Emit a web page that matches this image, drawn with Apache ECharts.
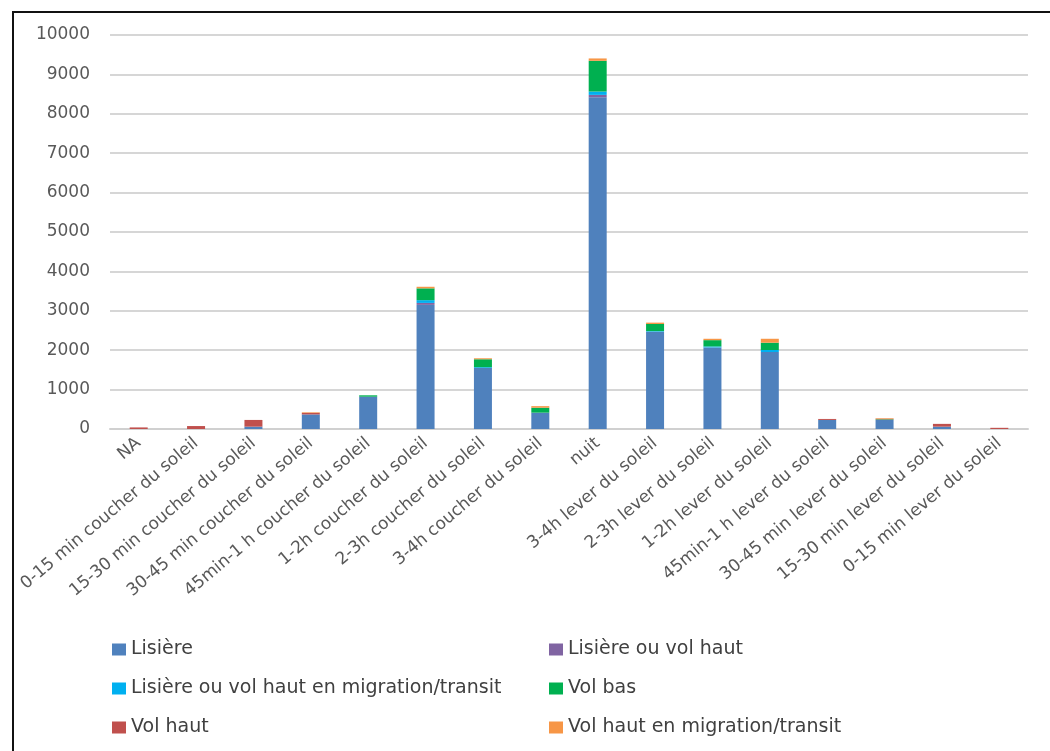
<!DOCTYPE html>
<html>
<head>
<meta charset="utf-8">
<script src="https://cdn.jsdelivr.net/npm/echarts@6/dist/echarts.min.js"></script>
<style>
  html, body { margin: 0; padding: 0; background: #fff; }
  #chart { width: 1050px; height: 751px; }
</style>
</head>
<body>
<div id="chart"></div>
<script>
// categories (x axis)
const periodes = ['NA', '0-15 min coucher du soleil', '15-30 min coucher du soleil', '30-45 min coucher du soleil',
  '45min-1 h coucher du soleil', '1-2h coucher du soleil', '2-3h coucher du soleil', '3-4h coucher du soleil',
  'nuit', '3-4h lever du soleil', '2-3h lever du soleil', '1-2h lever du soleil', '45min-1 h lever du soleil',
  '30-45 min lever du soleil', '15-30 min lever du soleil', '0-15 min lever du soleil'];

// values per series
const lisiere        = [0, 0, 60, 370, 820, 3150, 1550, 415, 8420, 2470, 2070, 1955, 230, 230, 60, 0];
const lisiereVolHaut = [0, 0, 0, 0, 0, 50, 0, 0, 60, 0, 0, 0, 0, 0, 0, 0];
const lisiereMigr    = [0, 0, 0, 0, 0, 70, 20, 0, 85, 15, 25, 50, 0, 0, 0, 0];
const volBas         = [0, 0, 0, 0, 35, 300, 200, 125, 780, 180, 160, 185, 0, 15, 0, 0];
const volHaut        = [40, 75, 170, 40, 0, 0, 0, 0, 0, 0, 0, 0, 25, 15, 70, 30];
const volHautMigr    = [0, 0, 0, 15, 0, 40, 25, 40, 60, 35, 35, 100, 0, 15, 0, 0];

const yTicks = [0, 10000, 1000]; // min, max, interval

const chart = echarts.init(document.getElementById('chart'));
const font = 'DejaVu Sans';

function serie(name, data, color) {
  return {
    name: name,
    type: 'bar',
    stack: 'total',
    barWidth: 18,
    data: data,
    itemStyle: { color: color }
  };
}

const legendText = { color: '#404040', fontSize: 19, fontFamily: font, lineHeight: 21 };

const option = {
  backgroundColor: '#fff',
  animation: false,
  textStyle: { fontFamily: font },
  graphic: [{
    type: 'rect',
    shape: { x: 13, y: 12, width: 1100, height: 800 },
    style: { fill: 'none', stroke: '#111', lineWidth: 2 },
    silent: true
  }],
  grid: { left: 110, right: 22, top: 35, bottom: 322, containLabel: false },
  xAxis: {
    type: 'category',
    data: periodes,
    axisLine: { lineStyle: { color: '#d0d0d0', width: 2 } },
    axisTick: { show: false },
    axisLabel: {
      interval: 0,
      rotate: 40,
      margin: 12,
      color: '#595959',
      fontSize: 17,
      fontFamily: font
    }
  },
  yAxis: {
    type: 'value',
    min: yTicks[0],
    max: yTicks[1],
    interval: yTicks[2],
    axisLine: { show: false },
    axisTick: { show: false },
    splitLine: { lineStyle: { color: '#d6d6d6', width: 2 } },
    axisLabel: {
      color: '#595959', fontSize: 17, margin: 20, fontFamily: font,
      formatter: function (v) { return String(v); }
    }
  },
  legend: [{
    orient: 'vertical',
    left: 107,
    top: 634,
    itemWidth: 14,
    itemHeight: 12,
    itemGap: 18,
    icon: 'rect',
    textStyle: legendText,
    data: ['Lisière', 'Lisière ou vol haut en migration/transit', 'Vol haut']
  }, {
    orient: 'vertical',
    left: 544,
    top: 634,
    itemWidth: 14,
    itemHeight: 12,
    itemGap: 18,
    icon: 'rect',
    textStyle: legendText,
    data: ['Lisière ou vol haut', 'Vol bas', 'Vol haut en migration/transit']
  }],
  series: [
    serie('Lisière', lisiere, '#4F81BD'),
    serie('Lisière ou vol haut', lisiereVolHaut, '#8064A2'),
    serie('Lisière ou vol haut en migration/transit', lisiereMigr, '#00B0F0'),
    serie('Vol bas', volBas, '#00B050'),
    serie('Vol haut', volHaut, '#C0504D'),
    serie('Vol haut en migration/transit', volHautMigr, '#F79646')
  ]
};

chart.setOption(option);
</script>
</body>
</html>
